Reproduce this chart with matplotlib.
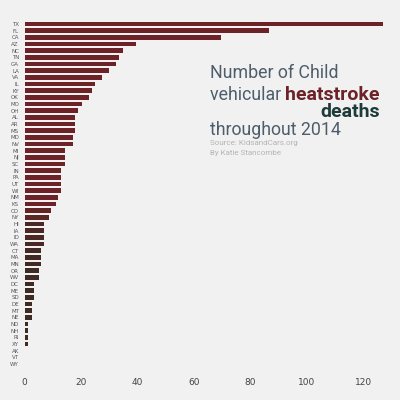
"""Child vehicular heatstroke deaths by state, 2014 (horizontal bars)."""
import numpy as np
import matplotlib
matplotlib.use("Agg")
import matplotlib.pyplot as plt
from matplotlib.colors import LinearSegmentedColormap

states = ["TX", "FL", "CA", "AZ", "NC", "TN", "GA", "LA", "VA", "IL", "KY", "OK",
          "MO", "OH", "AL", "AR", "MS", "MD", "NV", "MI", "NJ", "SC", "IN", "PA",
          "UT", "WI", "NM", "KS", "CO", "NY", "HI", "IA", "ID", "WA", "CT", "MA",
          "MN", "OR", "WV", "DC", "ME", "SD", "DE", "MT", "NE", "ND", "NH", "RI",
          "XY", "AK", "VT", "WY"]
deaths = [127, 86.5, 69.5, 39.5, 35, 33.5, 32.5, 30, 27.5, 25, 24, 23,
          20.5, 19, 18, 18, 18, 17, 17, 14.5, 14.5, 14.5, 13, 13,
          13, 13, 12, 11, 9.5, 8.5, 7, 7, 7, 7, 6, 6,
          6, 5, 5, 3.5, 3.5, 3.5, 2.5, 2.5, 2.5, 1.2, 1.2, 1.2,
          1.2, 0, 0, 0]
x_ticks = [0, 20, 40, 60, 80, 100, 120]

BG = "#f1f1f1"
MAROON = "#6d2227"
BROWN = "#3d2b24"
GREY_TXT = "#4e5d6c"

cmap = LinearSegmentedColormap.from_list("hs", [BROWN, BROWN, MAROON, MAROON],
                                         N=256)
vals = np.array(deaths)
colors = [cmap(min(v / 16.0, 1.0)) for v in vals]

fig = plt.figure(figsize=(4, 4), dpi=100, facecolor=BG)
ax = fig.add_axes([0.06125, 0.08, 0.9145, 0.87])
ax.set_facecolor(BG)

y = np.arange(len(states))
ax.barh(y, vals, height=0.68, color=colors, edgecolor="none")
ax.set_xlim(0, 129.5)
ax.set_ylim(len(states) - 0.4, -0.6)

ax.set_yticks(y)
ax.set_yticklabels(states, fontsize=4, color="#555555")
ax.set_xticks(x_ticks)
ax.set_xticklabels([str(t) for t in x_ticks], fontsize=6.5, color="#444444")
ax.tick_params(axis="both", length=0)
ax.tick_params(axis="y", pad=4)
ax.tick_params(axis="x", pad=7)
for s in ax.spines.values():
    s.set_visible(False)

# ── Titre ─────────────────────────────────────────────────────────────
fam = ["Roboto", "DejaVu Sans"]
fs = 12.8
fsb = 14
t1 = fig.text(210 / 400, 1 - 73 / 400, "Number of Child", fontsize=fs,
              color=GREY_TXT, family=fam, va="center", ha="left")
t2 = fig.text(210 / 400, 1 - 95 / 400, "vehicular ", fontsize=fs,
              color=GREY_TXT, family=fam, va="center", ha="left")
t3 = ax.annotate("heatstroke", xy=(1, 0), xycoords=t2, va="bottom", ha="left",
                 fontsize=fsb, color=MAROON, family=fam, weight="bold")
ax.annotate("deaths", xy=(1, 0), xycoords=t3, xytext=(0, 1),
            textcoords="offset points", va="top", ha="right",
            fontsize=fsb, color="#1e3b3a", family=fam, weight="bold")
fig.text(210 / 400, 1 - 130 / 400, "throughout 2014", fontsize=fs,
         color=GREY_TXT, family=fam, va="center", ha="left")
fig.text(210 / 400, 1 - 143 / 400, "Source: KidsandCars.org", fontsize=5.8,
         color="#b5b5b5", family=fam, va="center", ha="left")
fig.text(210 / 400, 1 - 153 / 400, "By Katie Stancombe", fontsize=5.8,
         color="#b5b5b5", family=fam, va="center", ha="left")

fig.savefig("out.png", dpi=100, facecolor=BG)
